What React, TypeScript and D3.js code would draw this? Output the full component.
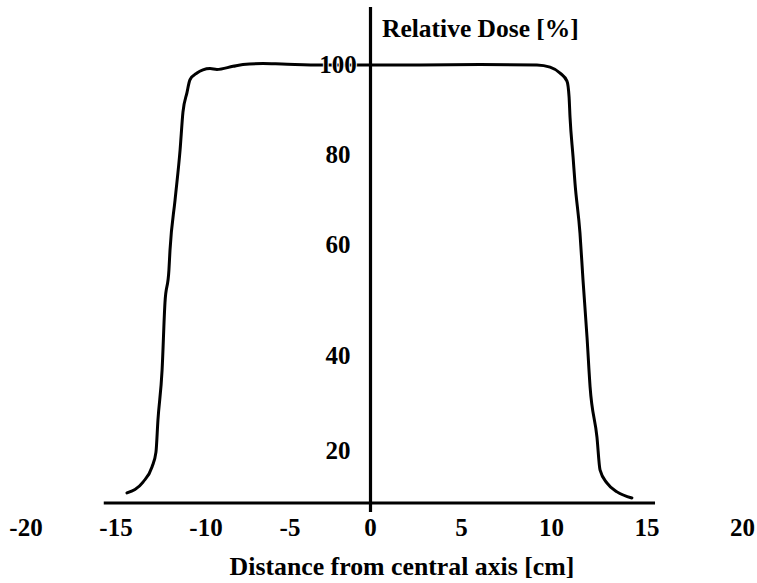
import React from "react";
import * as d3 from "d3";

// Beam profile: relative dose across the field
const distanceCm = [
  -14.39, -13.5, -13.0, -12.78, -12.67, -12.44, -12.28, -12.06, -12.0, -11.72,
  -11.44, -11.28, -11.06, -10.89, -10.5, -10.17, -9.76, -9.35, -8.39, -7.8,
  -6.61, -5.48, -3.01, 0, 2.72, 6.03, 9.19, 9.92, 10.45, 10.81,
  10.92, 10.97, 11.13, 11.23, 11.49, 11.65, 11.86, 12.02, 12.38, 12.54,
  12.91, 13.43, 14.21,
];
const relativeDose = [
  3.8, 7.9, 13.6, 19.2, 26.3, 36.8, 49.4, 55.3, 58.9, 69.8,
  81.0, 89.4, 93.7, 96.6, 98.1, 98.8, 99.1, 98.9, 99.6, 100.0,
  100.2, 100.1, 99.9, 99.9, 99.9, 100.0, 99.9, 99.4, 98.1, 96.3,
  92.8, 88.3, 79.4, 73.6, 62.5, 53.5, 43.2, 33.3, 22.7, 12.5,
  7.5, 4.2, 1.9,
];

const xTicks = [-20, -15, -10, -5, 0, 5, 10, 15, 20];
const yTicks = [20, 40, 60, 80, 100];
const xAxisExtent = [-15.68, 15.42];
const yAxisTop = 112.8;

const W = 757;
const H = 583;
const FONT = "'Liberation Serif', 'Times New Roman', serif";

// hand-spaced axes: piecewise-linear scales
const x = d3
  .scaleLinear()
  .domain(xTicks)
  .range([26, 116, 206, 290, 370.5, 461.5, 551.5, 647, 742.5]);
const y = d3
  .scaleLinear()
  .domain([0, 20, 40, 60, 80, 100])
  .range([503, 450, 355, 244, 154.5, 64.5]);

export default function App() {
  const pts: [number, number][] = distanceCm.map((d, i) => [d, relativeDose[i]]);
  const line = d3
    .line<[number, number]>()
    .x((d) => x(d[0]))
    .y((d) => y(d[1]))
    .curve(d3.curveMonotoneX);

  const x0 = x(0);
  const yBase = y(0);

  return (
    <svg
      width={W}
      height={H}
      viewBox={`0 0 ${W} ${H}`}
      style={{ position: "absolute", left: 0, top: 0, background: "#fff" }}
    >
      <rect width={W} height={H} fill="#fff" />
      <path d={line(pts) ?? ""} fill="none" stroke="#000" strokeWidth={3} strokeLinejoin="round" strokeLinecap="round" />

      {/* y tick labels */}
      <g fontFamily={FONT} fontWeight="bold" fontSize={25} textAnchor="middle">
        {yTicks.map((t) => (
          <text
            key={t}
            x={338}
            y={y(t)}
            dy="0.34em"
            fill="#000"
            stroke="#fff"
            strokeWidth={2}
            paintOrder="stroke"
          >
            {t}
          </text>
        ))}
      </g>

      {/* axes */}
      <line x1={x(xAxisExtent[0])} x2={x(xAxisExtent[1])} y1={yBase} y2={yBase} stroke="#000" strokeWidth={3.2} />
      <line x1={x0} x2={x0} y1={y(yAxisTop)} y2={yBase + 9} stroke="#000" strokeWidth={3.2} />

      {/* x tick labels */}
      <g fontFamily={FONT} fontWeight="bold" fontSize={25} textAnchor="middle">
        {xTicks.map((t) => (
          <text key={t} x={x(t)} y={536}>
            {t < 0 ? `-${Math.abs(t)}` : t}
          </text>
        ))}
      </g>

      <text x={382} y={37} fontFamily={FONT} fontWeight="bold" fontSize={25.5}>
        Relative Dose [%]
      </text>
      <text x={402} y={575} fontFamily={FONT} fontWeight="bold" fontSize={25.8} textAnchor="middle">
        Distance from central axis [cm]
      </text>
    </svg>
  );
}
